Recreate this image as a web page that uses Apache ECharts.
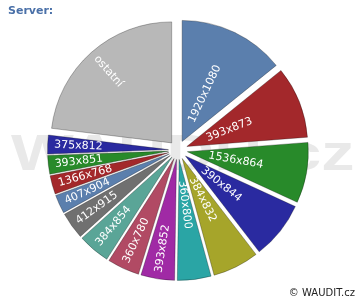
<!DOCTYPE html>
<html><head><meta charset="utf-8">
<script src="https://cdn.jsdelivr.net/npm/echarts/dist/echarts.min.js"></script>
<style>html,body{margin:0;padding:0;background:#fff}#c{width:360px;height:300px}</style>
</head><body><div id="c"></div>
<script>
// Data
const categories = ['1920x1080','393x873','1536x864','390x844','384x832','360x800','393x852','360x780','384x854','412x915','407x904','1366x768','393x851','375x812','ostatní'];
const values = [14.2, 9.6, 8.1, 7.7, 6.2, 4.5, 4.5, 4.3, 4.3, 3.6, 2.5, 2.5, 2.5, 2.5, 23.1];
const colors = ['#5b7fad','#a3282b','#288a2a','#2a2aa0','#a6a52a','#2aa5a5','#a02aa5','#b14a64','#5aa597','#707070','#5b7fad','#a3282b','#288a2a','#2a2aa0','#b8b8b8'];

const total = values.reduce((a, b) => a + b, 0);
let acc = 0;
const data = categories.map((n, i) => {
  const mid = (acc + values[i] / 2) / total * 360;
  acc += values[i];
  const left = mid > 180;
  return {
    name: n, value: values[i], selected: true,
    itemStyle: { color: colors[i] },
    label: { width: left ? 102 : 84 }
  };
});

const chart = echarts.init(document.getElementById('c'), null, { renderer: 'canvas' });
const border = { borderColor: 'rgba(0,0,0,0.35)', borderWidth: 0.8 };
chart.setOption({
  animation: false,
  title: {
    text: 'Server:', left: 8, top: 6, padding: 0,
    textStyle: { fontSize: 11, fontWeight: 'bold', color: '#4a70a8', fontFamily: 'DejaVu Sans' }
  },
  graphic: [
    { type: 'text', x: 11, y: 156, scaleX: 1.33, z: -10, silent: true,
      style: { text: 'WAUDIT.cz', font: 'bold 50px "Liberation Sans"', fill: '#e9e9e9', align: 'left', verticalAlign: 'middle' } },
    { type: 'text', x: 355, y: 293, silent: true,
      style: { text: '© WAUDIT.cz', font: '10px "DejaVu Sans"', fill: '#222', align: 'right', verticalAlign: 'middle' } }
  ],
  series: [{
    type: 'pie',
    center: [178, 150],
    radius: [0, 121],
    startAngle: 90,
    clockwise: true,
    selectedMode: 'multiple',
    selectedOffset: 9.5,
    avoidLabelOverlap: false,
    labelLayout: { hideOverlap: false },
    label: {
      show: true, position: 'inside', rotate: 'radial',
      formatter: '{t|{b}}',
      rich: { t: { color: '#fff', fontSize: 11, fontFamily: 'DejaVu Sans', align: 'left' } }
    },
    labelLine: { show: false },
    itemStyle: border,
    select: { itemStyle: border },
    emphasis: { disabled: true },
    data: data
  }]
});
</script>
</body></html>
